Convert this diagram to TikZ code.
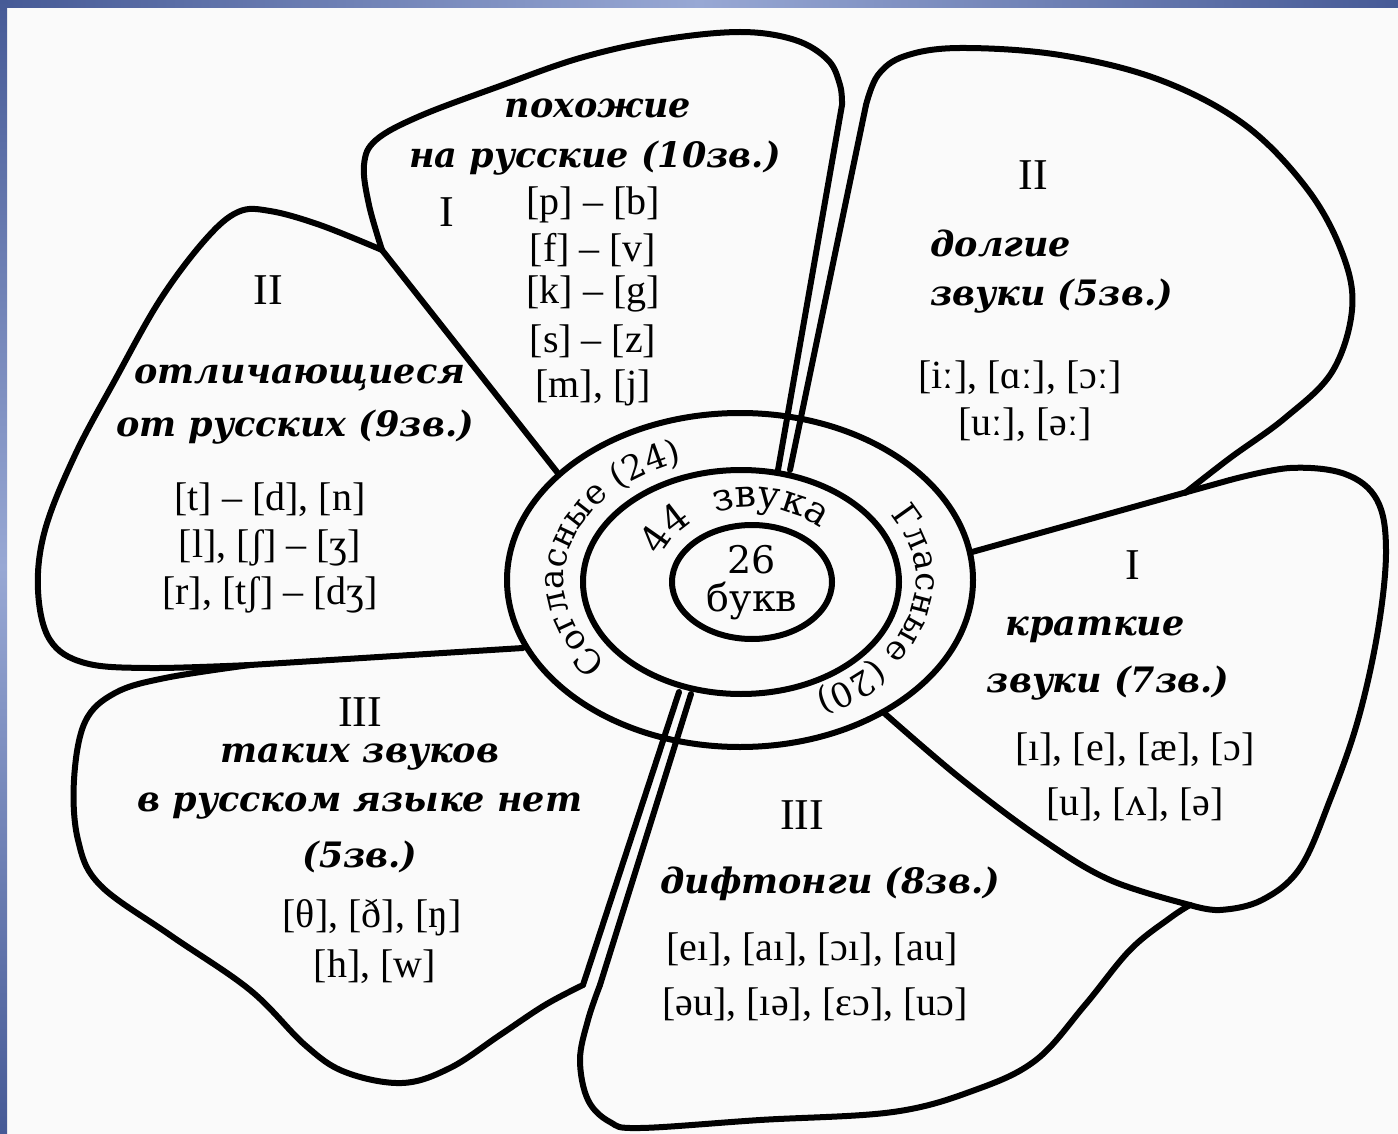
\documentclass[tikz,border=0pt]{standalone}
\usepackage{fontspec}
\setmainfont{DejaVu Serif}
\newfontfamily\ipafont{Liberation Serif}
\usetikzlibrary{decorations.text}
\definecolor{paper}{RGB}{250,250,250}
\definecolor{blueD}{RGB}{70,90,150}
\definecolor{blueL}{RGB}{152,168,212}
\begin{document}
\begin{tikzpicture}[x=0.5pt,y=-0.5pt,
  outl/.style={line width=3pt, line join=round, line cap=round},
  lab/.style={font=\fontsize{17.5}{20}\selectfont\bfseries\itshape, align=center, inner sep=0pt},
  labl/.style={font=\fontsize{17.5}{20}\selectfont\bfseries\itshape, anchor=west, inner sep=0pt},
  ipa/.style={font=\ipafont\fontsize{20}{24}\selectfont, inner sep=0pt},
  rom/.style={font=\ipafont\fontsize{22}{24}\selectfont, inner sep=0pt},
  ctr/.style={font=\fontsize{19}{21}\selectfont, inner sep=0pt}]
\useasboundingbox (0,0) rectangle (1398,1134);
\fill[paper] (0,0) rectangle (1398,1134);
\shade[left color=blueD, right color=blueD, middle color=blueL] (0,0) rectangle (1398,8);
\shade[top color=blueD, bottom color=blueD, middle color=blueL] (0,0) rectangle (7,1134);

% ellipses
\draw[outl] (740,580) ellipse[x radius=233, y radius=167];
\draw[outl] (741,582) ellipse[x radius=158, y radius=112];
\draw[outl] (752,582) ellipse[x radius=80, y radius=57];

% straight boundaries
\draw[outl] (557,472) -- (382,250);
\draw[outl] (523,648) -- (250,665);
\draw[outl] (972,552) -- (1230,480);
% double lines
\draw[outl] (778,470) -- (842,105);
\draw[outl] (790,470) -- (866,105);
\draw[outl] (679,692) -- (583,985);
\draw[outl] (691,694) -- (600,985);

% top petal
\draw[outl] plot[smooth, tension=0.6] coordinates {(382,250) (369,205) (364,165) (376,140) (420,116) (500,86) (580,58) (660,40) (740,32) (795,40) (828,60) (840,85) (842,105)};
% left petal
\draw[outl] plot[smooth, tension=0.6] coordinates {(382,250) (320,225) (270,211) (238,212) (205,240) (160,300) (115,380) (75,455) (45,530) (38,590) (50,640) (85,663) (150,668) (250,665)};
% bottom-left petal
\draw[outl] plot[smooth, tension=0.6] coordinates {(250,665) (165,678) (115,693) (85,722) (74,780) (78,840) (100,885) (170,935) (250,990) (305,1045) (345,1072) (402,1083) (450,1068) (500,1035) (545,1005) (583,985)};
% bottom petal
\draw[outl] plot[smooth, tension=0.6] coordinates {(600,985) (588,1020) (580,1060) (588,1100) (610,1122) (640,1128) (760,1120) (893,1112) (975,1090) (1036,1060) (1085,1005) (1130,950) (1170,918) (1190,905)};
% right petal
\draw[outl] plot[smooth, tension=0.6] coordinates {(1230,480) (1290,468) (1345,474) (1377,500) (1386,550) (1378,630) (1358,720) (1330,800) (1300,868) (1262,900) (1220,910) (1190,905)};
\draw[outl] plot[smooth, tension=0.6] coordinates {(883,712) (960,778) (1040,838) (1110,880) (1190,905)};
% upper-right petal
\draw[outl] plot[smooth, tension=0.6] coordinates {(866,105) (878,75) (905,56) (960,48) (1060,55) (1160,80) (1245,125) (1308,190) (1343,255) (1352,310) (1332,372) (1285,418) (1230,458) (1185,493)};

% center texts
\node[ctr] (n26) at (752,560) {26};
\node[ctr] (nbukv) at (752,601) {букв};
\path[decorate, decoration={text along path, text align=center,
  text={|\fontsize{19}{19}\selectfont|44}}]
  (752,582) ++(196:97 and 75) arc[start angle=196, end angle=236, x radius=97, y radius=75];
\path[decorate, decoration={text along path, text align=center,
  text={|\fontsize{19}{19}\selectfont|звука}}]
  (752,582) ++(236:97 and 75) arc[start angle=236, end angle=328, x radius=97, y radius=75];
\path[decorate, decoration={text along path, text align=center,
  text={|\fontsize{17}{17}\selectfont|Согласные (24)}}]
  (740,580) ++(119:176 and 125) arc[start angle=119, end angle=269, x radius=176, y radius=125];
\path[decorate, decoration={text along path, text align=center,
  text={|\fontsize{17}{17}\selectfont|Гласные (20)}}]
  (740,580) ++(-60:176 and 125) arc[start angle=-60, end angle=90, x radius=176, y radius=125];

% top petal texts
\node[lab] (t1) at (598,108) {похожие};
\node[lab] (t2) at (595,158) {на русские (10зв.)};
\node[rom] (r1) at (447,212) {I};
\node[ipa] (a1) at (593,205) {[p] – [b]};
\node[ipa] (a2) at (593,250) {[f] – [v]};
\node[ipa] (a3) at (593,294) {[k] – [g]};
\node[ipa] (a4) at (593,341) {[s] – [z]};
\node[ipa] (a5) at (593,388) {[m], [j]};

% upper right
\node[rom] (r2) at (1033,175) {II};
\node[labl] (u1) at (930,243) {долгие};
\node[labl] (u2) at (930,296) {звуки (5зв.)};
\node[ipa] (b1) at (1020,378) {[iː], [ɑː], [ɔː]};
\node[ipa] (b2) at (1025,425) {[uː], [əː]};

% left
\node[rom] (r3) at (268,290) {II};
\node[lab] (l1) at (300,378) {отличающиеся};
\node[lab] (l2) at (295,427) {от русских (9зв.)};
\node[ipa] (c1) at (270,500) {[t] – [d], [n]};
\node[ipa] (c2) at (270,548) {[l], [ʃ] – [ʒ]};
\node[ipa] (c3) at (270,595) {[r], [tʃ] – [dʒ]};

% right
\node[rom] (r4) at (1133,565) {I};
\node[lab] (k1) at (1095,630) {краткие};
\node[lab] (k2) at (1108,683) {звуки (7зв.)};
\node[ipa] (d1) at (1135,750) {[ı], [e], [æ], [ɔ]};
\node[ipa] (d2) at (1135,805) {[u], [ʌ], [ə]};

% bottom-left
\node[rom] (r5) at (360,712) {III};
\node[lab] (s1) at (360,757) {таких звуков};
\node[lab] (s2) at (360,806) {в русском языке нет};
\node[lab] (s3) at (360,857) {(5зв.)};
\node[ipa] (e1) at (372,918) {[θ], [ð], [ŋ]};
\node[ipa] (e2) at (375,967) {[h], [w]};

% bottom
\node[rom] (r6) at (802,815) {III};
\node[lab] (f1) at (830,884) {дифтонги (8зв.)};
\node[ipa] (g1) at (812,950) {[eı], [aı], [ɔı], [au]};
\node[ipa] (g2) at (815,1005) {[əu], [ıə], [ɛɔ], [uɔ]};
\end{tikzpicture}
\end{document}
